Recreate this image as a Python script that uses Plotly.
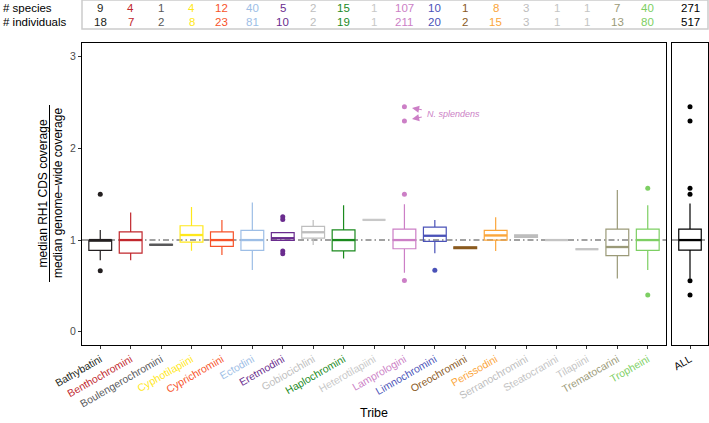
import plotly.graph_objects as go

# ---------------- data ----------------
tribes = ["Bathybatini", "Benthochromini", "Boulengerochromini", "Cyphotilapiini",
          "Cyprichromini", "Ectodini", "Eretmodini", "Gobiocichlini", "Haplochromini",
          "Heterotilapiini", "Lamprologini", "Limnochromini", "Oreochromini",
          "Perissodini", "Serranochromini", "Steatocranini", "Tilapiini",
          "Trematocarini", "Tropheini"]
tribe_colors = ["#231F20", "#C1272D", "#58585A", "#FFE81A", "#F7532A", "#9DBEE6",
                "#6A2C8E", "#BEBEBE", "#1B8A1E", "#C8C8C8", "#CC7FC6", "#4A52B8",
                "#8A5A1E", "#FBA63B", "#BDBDBD", "#C4C4C4", "#C4C4C4", "#9B9A78",
                "#7DCF63"]
n_species = [9, 4, 1, 4, 12, 40, 5, 2, 15, 1, 107, 10, 1, 8, 3, 1, 1, 7, 40]
n_individuals = [18, 7, 2, 8, 23, 81, 10, 2, 19, 1, 211, 20, 2, 15, 3, 1, 1, 13, 80]
total_species = 271
total_individuals = 517

lower_whisker = [0.78, 0.78, 0.945, 0.883, 0.836, 0.673, 0.997, 0.945, 0.80, 1.22,
                 0.643, 0.855, 0.905, 0.88, 1.03, 1.0, 0.90, 0.58, 0.673]
q1 = [0.887, 0.858, 0.945, 0.978, 0.93, 0.887, 0.997, 1.02, 0.883, 1.22,
      0.905, 0.985, 0.905, 1.0, 1.03, 1.0, 0.90, 0.83, 0.887]
median = [1.0, 1.0, 0.948, 1.055, 1.0, 1.0, 1.02, 1.085, 1.0, 1.22,
          1.0, 1.047, 0.915, 1.05, 1.044, 1.0, 0.90, 0.924, 1.0]
q3 = [1.0, 1.09, 0.952, 1.156, 1.09, 1.105, 1.08, 1.15, 1.11, 1.22,
      1.12, 1.14, 0.925, 1.105, 1.058, 1.0, 0.90, 1.12, 1.12]
upper_whisker = [1.11, 1.30, 0.952, 1.36, 1.22, 1.41, 1.08, 1.22, 1.38, 1.22,
                 1.39, 1.22, 0.925, 1.25, 1.058, 1.0, 0.90, 1.545, 1.38]
outliers = [[1.50, 0.665], [], [], [], [], [], [1.255, 1.225, 0.88, 0.85], [], [], [],
            [2.454, 2.30, 1.50, 0.56], [0.67], [], [], [], [], [], [], [1.564, 0.40]]

all_stats = dict(lw=0.58, q1=0.89, med=1.0, q3=1.12, uw=1.40)
all_outliers = [2.454, 2.30, 1.564, 1.50, 0.556, 0.40]
annot_text = "N. splendens"

# ---------------- figure ----------------
W, H = 709, 423
ML, MR, MT, MB = 82, 1, 43, 78
PW = W - ML - MR
PH = H - MT - MB
FONT = "Liberation Sans, Arial, Helvetica, sans-serif"


def px_x(p):
    return (p - ML) / PW


def px_y(p):
    return (H - MB - p) / PH


fig = go.Figure()
BW = 0.75
for i, t in enumerate(tribes):
    c = tribe_colors[i]
    fig.add_trace(go.Box(x=[i], q1=[q1[i]], median=[median[i]], q3=[q3[i]],
                         lowerfence=[lower_whisker[i]], upperfence=[upper_whisker[i]],
                         width=BW, whiskerwidth=0, fillcolor="rgba(0,0,0,0)",
                         line=dict(color=c, width=1.2), boxpoints=False,
                         showlegend=False, hoverinfo="skip"))
    fig.add_trace(go.Scatter(x=[i - BW / 2, i + BW / 2], y=[median[i], median[i]],
                             mode="lines", line=dict(color=c, width=2.3),
                             showlegend=False, hoverinfo="skip"))
    if outliers[i]:
        fig.add_trace(go.Scatter(x=[i] * len(outliers[i]), y=outliers[i], mode="markers",
                                 marker=dict(color=c, size=5), showlegend=False,
                                 hoverinfo="skip"))

# ALL panel
fig.add_trace(go.Box(x=[0], q1=[all_stats["q1"]], median=[all_stats["med"]], q3=[all_stats["q3"]],
                     lowerfence=[all_stats["lw"]], upperfence=[all_stats["uw"]],
                     width=BW, whiskerwidth=0, fillcolor="rgba(0,0,0,0)",
                     line=dict(color="#000000", width=1.2), boxpoints=False,
                     showlegend=False, xaxis="x2", yaxis="y2"))
fig.add_trace(go.Scatter(x=[-BW / 2, BW / 2], y=[all_stats["med"]] * 2, mode="lines",
                         line=dict(color="#000000", width=2.3), showlegend=False,
                         xaxis="x2", yaxis="y2"))
fig.add_trace(go.Scatter(x=[0] * len(all_outliers), y=all_outliers, mode="markers",
                         marker=dict(color="#000000", size=5), showlegend=False,
                         xaxis="x2", yaxis="y2"))

ticktext = [f'<span style="color:{c}">{t}</span>' for t, c in zip(tribes, tribe_colors)]
split = px_x(666)
split2 = px_x(672)
axis_common = dict(showline=True, linecolor="#000000", linewidth=1.3, mirror=True,
                   showgrid=False, zeroline=False)
fig.update_layout(
    width=W, height=H, margin=dict(l=ML, r=MR, t=MT, b=MB),
    plot_bgcolor="white", paper_bgcolor="white",
    font=dict(family=FONT, size=11, color="#000000"),
    xaxis=dict(domain=[0, split], range=[-0.6, 18.6], tickmode="array",
               tickvals=list(range(len(tribes))), ticktext=ticktext, tickangle=-30,
               ticks="outside", ticklen=3, tickcolor="#333333",
               tickfont=dict(size=10.5, family=FONT), anchor="y", **axis_common),
    xaxis2=dict(domain=[split2, 1], range=[-0.6, 0.6], tickmode="array", tickvals=[0],
                ticktext=["ALL"], tickangle=-30, ticks="outside", ticklen=3,
                tickcolor="#333333", tickfont=dict(size=10.5, family=FONT, color="#000000"),
                anchor="y2", **axis_common),
    yaxis=dict(domain=[0, 1], range=[-0.145, 3.15], tickmode="array", tickvals=[0, 1, 2, 3],
               ticks="outside", ticklen=3, tickcolor="#333333",
               tickfont=dict(size=10.5, color="#4D4D4D", family=FONT), anchor="x",
               **axis_common),
    yaxis2=dict(domain=[0, 1], range=[-0.145, 3.15], matches="y", showticklabels=False,
                ticks="", anchor="x2", **axis_common),
    boxmode="overlay",
)

# reference lines at 1
for xr, yr in (("x domain", "y"), ("x2 domain", "y2")):
    fig.add_shape(type="line", xref=xr, yref=yr, x0=0, x1=1, y0=1, y1=1,
                  line=dict(color="#444444", width=1.1, dash="6px,3px,1.5px,3px"),
                  layer="below")

# header box
fig.add_shape(type="rect", xref="paper", yref="paper", x0=0, x1=1,
              y0=px_y(29), y1=px_y(0), line=dict(color="#CCCCCC", width=1.5))
row1, row2 = px_y(7.5), px_y(22.5)
fig.add_annotation(xref="paper", yref="paper", x=px_x(1), y=row1, text="# species",
                   showarrow=False, xanchor="left", yanchor="middle", font=dict(size=11.5))
fig.add_annotation(xref="paper", yref="paper", x=px_x(1), y=row2, text="# individuals",
                   showarrow=False, xanchor="left", yanchor="middle", font=dict(size=11.5))
for i, c in enumerate(tribe_colors):
    for val, ry in ((n_species[i], row1), (n_individuals[i], row2)):
        fig.add_annotation(xref="x", yref="paper", x=i, y=ry, text=str(val), showarrow=False,
                           xanchor="center", yanchor="middle", font=dict(size=11.5, color=c))
for val, ry in ((total_species, row1), (total_individuals, row2)):
    fig.add_annotation(xref="x2", yref="paper", x=0, y=ry, text=str(val), showarrow=False,
                       xanchor="center", yanchor="middle", font=dict(size=11.5, color="#000000"))

# y-axis title as a fraction
ymid = px_y(193.5)
fig.add_annotation(xref="paper", yref="paper", x=px_x(42), y=ymid,
                   text="median RH1 CDS coverage", textangle=-90, showarrow=False,
                   xanchor="center", yanchor="middle", font=dict(size=12))
fig.add_annotation(xref="paper", yref="paper", x=px_x(57.5), y=ymid,
                   text="median genome\u2013wide coverage", textangle=-90, showarrow=False,
                   xanchor="center", yanchor="middle", font=dict(size=12))
fig.add_shape(type="line", xref="paper", yref="paper", x0=px_x(49.5), x1=px_x(49.5),
              y0=px_y(105), y1=px_y(282), line=dict(color="#000000", width=1))

# x-axis title
fig.add_annotation(xref="paper", yref="paper", x=split / 2, y=px_y(413), text="Tribe",
                   showarrow=False, xanchor="center", yanchor="middle", font=dict(size=12.5))

# N. splendens annotation
li = tribes.index("Lamprologini")
lc = tribe_colors[li]
top, bot = outliers[li][0], outliers[li][1]
fig.add_annotation(xref="x", yref="y", axref="x", ayref="y", x=li + 0.25, y=top - 0.012,
                   ax=li + 0.62, ay=top - 0.035, text="", showarrow=True, arrowhead=2,
                   arrowsize=1.3, arrowwidth=1.1, arrowcolor=lc)
fig.add_annotation(xref="x", yref="y", axref="x", ayref="y", x=li + 0.25, y=bot + 0.02,
                   ax=li + 0.62, ay=bot + 0.045, text="", showarrow=True, arrowhead=2,
                   arrowsize=1.3, arrowwidth=1.1, arrowcolor=lc)
fig.add_annotation(xref="x", yref="y", x=li + 0.68, y=(top + bot) / 2, text=f"<i>{annot_text}</i>",
                   showarrow=False, xanchor="left", yanchor="middle",
                   font=dict(size=9, color=lc))

fig.write_html("out.html", config={"displayModeBar": False},
               post_script="document.body.style.margin='0px';document.body.style.overflow='hidden';")
